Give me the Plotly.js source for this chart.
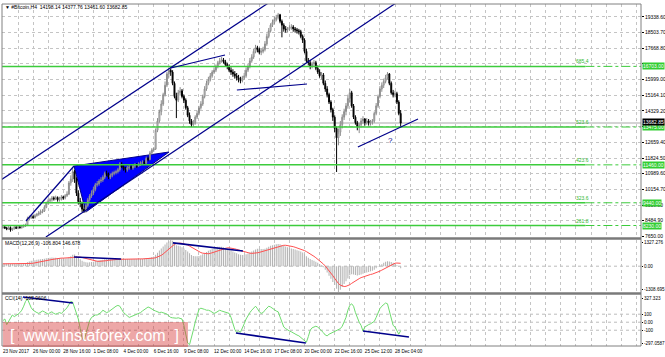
<!DOCTYPE html>
<html><head><meta charset="utf-8">
<script src="https://cdn.plot.ly/plotly-3.0.1.min.js"></script>
<style>html,body{margin:0;padding:0;background:#fff;}#chart{width:665px;height:357px;}</style>
</head><body><div id="chart"></div>
<script>
const opens=[8120,8150,8100,8050,8120,7990,8060,8130,8090,8150,
8120,8180,8200,8250,8600,8650,8700,8660,8760,8820,
8900,8950,9000,9200,9430,9550,9600,9700,9650,9720,
9600,9650,9750,9700,9820,9900,10500,10700,11100,10700,
9950,9500,9400,9100,9000,9300,9600,9800,9950,10150,
10400,10450,10600,10650,10800,11000,10950,10800,10900,11000,
11050,11100,11200,11500,11350,11250,11200,11300,11350,11300,
11400,11450,11400,11500,11550,11600,11550,11800,11750,12100,
12250,12300,13300,13800,14300,14700,15200,15700,16300,16500,
16400,15800,15100,14900,15300,15400,15100,14900,14500,14100,
13800,13600,13700,14000,14200,14500,14700,15100,15500,15800,
16000,16200,16400,16500,16700,16900,17000,17050,16950,16800,
16700,16500,16400,16300,16200,16100,16000,15950,16100,16200,
16500,16700,17000,17200,17500,17700,17600,17450,17500,17600,
17900,18300,18600,18900,19050,19200,19300,19450,19100,18900,
18700,18650,18700,18780,18800,18700,18650,18600,18550,18300,
18100,17500,17000,16900,16700,16850,16900,16600,16400,16200,
16250,15800,15500,15200,14800,14400,14000,13400,12900,13200,
13600,14000,14300,14600,15000,15300,14600,14000,13700,13500,
13600,13800,13900,13700,13800,13700,13750,13800,14200,14600,
15100,15500,15700,15900,16100,16300,15800,15300,15200,15250,
14800,14198.14];
const highs=[8250,8220,8160,8200,8180,8120,8200,8210,8230,8240,
8260,8290,8330,8700,8760,8800,8780,8850,8900,9000,
9080,9100,9300,9500,9650,9700,9800,9780,9820,9780,
9760,9850,9820,9900,10050,10600,10900,11350,11200,10800,
10100,9700,9500,9300,9400,9700,9900,10100,10300,10500,
10600,10700,10800,10900,11100,11150,11050,11000,11100,11150,
11200,11300,11600,11600,11450,11350,11400,11450,11450,11500,
11550,11550,11600,11650,11700,11700,11900,11900,12200,12350,
12400,13400,13950,14400,14900,15300,15900,16400,16650,16600,
16500,15900,15300,15450,15600,15500,15200,15000,14600,14250,
13900,13850,14100,14350,14600,14850,15200,15650,15950,16150,
16350,16500,16650,16800,17000,17150,17200,17150,17050,16900,
16800,16650,16550,16450,16350,16250,16150,16200,16350,16650,
16850,17150,17350,17650,17850,17800,17700,17650,17750,18050,
18450,18750,19000,19200,19350,19450,19550,19500,19200,19000,
18850,18800,18900,18950,18900,18800,18750,18700,18650,18400,
18200,17650,17150,17050,16950,17050,17000,16750,16550,16400,
16350,15950,15650,15300,14900,14500,14100,13500,13400,13800,
14150,14450,14750,15200,15500,15400,14700,14100,13800,13700,
13950,14050,13950,13950,13900,13850,13900,14300,14750,15200,
15650,15850,16050,16250,16400,16350,15900,15450,15400,15350,
14900,14377.76];
const lows=[8050,8040,7980,8000,7900,7940,8010,8040,8030,8060,
8060,8110,8150,8200,8500,8580,8580,8600,8700,8750,
8800,8880,8950,9150,9350,9450,9500,9560,9580,9500,
9500,9560,9600,9620,9750,9850,10350,10550,10500,9800,
9350,9200,8950,8900,8920,9200,9500,9700,9850,10050,
10300,10350,10500,10550,10700,10850,10700,10700,10800,10900,
10950,11000,11100,11300,11150,11050,11100,11200,11200,11200,
11300,11300,11350,11400,11450,11450,11500,11650,11700,12000,
12150,12250,13200,13700,14100,14600,15100,15600,16100,16200,
15700,15000,13950,14800,15150,15000,14750,14400,14000,13650,
13475,13480,13600,13900,14100,14400,14600,15000,15400,15700,
15900,16100,16300,16400,16600,16800,16900,16850,16700,16550,
16400,16250,16150,16050,15950,15850,15800,15850,16000,16100,
16400,16600,16900,17100,17400,17450,17350,17300,17400,17500,
17800,18200,18500,18800,18950,19100,19200,19000,18250,18550,
18500,18500,18600,18650,18550,18500,18450,18400,18200,17950,
17400,16900,16750,16550,16600,16700,16500,16300,16100,16000,
15700,15350,15050,14700,14250,13800,13200,11080,12500,13000,
13400,13850,14100,14450,14800,14500,13900,13600,13300,13150,
13450,13650,13550,13600,13550,13550,13600,13700,14100,14500,
15000,15350,15550,15800,16000,15700,15200,15050,15050,14700,
14100,13461.60];
const closes=[8150,8100,8050,8120,7990,8060,8130,8090,8150,8120,
8180,8200,8250,8600,8650,8700,8660,8760,8820,8900,
8950,9000,9200,9430,9550,9600,9700,9650,9720,9600,
9650,9750,9700,9820,9900,10500,10700,11100,10700,9950,
9500,9400,9100,9000,9300,9600,9800,9950,10150,10400,
10450,10600,10650,10800,11000,10950,10800,10900,11000,11050,
11100,11200,11500,11350,11250,11200,11300,11350,11300,11400,
11450,11400,11500,11550,11600,11550,11800,11750,12100,12250,
12300,13300,13800,14300,14700,15200,15700,16300,16500,16400,
15800,15100,14900,15300,15400,15100,14900,14500,14100,13800,
13600,13700,14000,14200,14500,14700,15100,15500,15800,16000,
16200,16400,16500,16700,16900,17000,17050,16950,16800,16700,
16500,16400,16300,16200,16100,16000,15950,16100,16200,16500,
16700,17000,17200,17500,17700,17600,17450,17500,17600,17900,
18300,18600,18900,19050,19200,19300,19450,19100,18900,18700,
18650,18700,18780,18800,18700,18650,18600,18550,18300,18100,
17500,17000,16900,16700,16850,16900,16600,16400,16200,16250,
15800,15500,15200,14800,14400,14000,13400,12900,13200,13600,
14000,14300,14600,15000,15300,14600,14000,13700,13500,13600,
13800,13900,13700,13800,13700,13750,13800,14200,14600,15100,
15500,15700,15900,16100,16300,15800,15300,15200,15250,14800,
14198.14,13682.85];
const macdMain=[150,140,130,135,110,105,115,110,120,125,
130,140,150,200,240,270,280,300,320,340,
350,360,380,400,420,430,440,430,430,410,
400,400,390,395,400,450,500,580,590,520,
430,350,280,220,200,190,200,210,230,260,
280,300,310,330,350,350,340,340,340,345,
350,360,390,390,380,370,370,370,360,365,
370,365,370,375,380,380,400,400,430,460,
490,580,680,790,900,1000,1100,1200,1270,1327,
1290,1180,1060,1030,1010,960,900,820,740,650,
570,520,500,500,520,550,600,660,720,780,
830,880,920,960,980,990,980,960,930,890,
840,790,740,690,650,610,580,570,570,600,
640,700,750,800,850,880,880,870,870,890,
930,980,1030,1060,1090,1110,1130,1110,1080,1040,
1000,960,930,900,870,840,810,780,740,690,
600,500,430,360,310,280,230,170,110,40,
-60,-180,-320,-480,-640,-800,-960,-1150,-1308,-1200,
-1050,-900,-770,-620,-460,-410,-420,-450,-470,-450,
-420,-380,-350,-320,-290,-260,-230,-180,-110,-30,
30,100,170,220,250,240,210,170,110,50,
-30,-106.804];
const macdSignal=[120,120,118,116,114,112,110,110,112,115,
118,120,122,125,130,140,150,165,180,200,
220,240,260,280,300,320,340,360,380,395,
405,410,410,410,410,415,425,440,460,470,
470,460,440,415,385,355,325,300,280,265,
250,245,245,250,260,280,300,315,325,335,
340,345,350,355,360,365,368,370,370,370,
370,370,370,370,370,372,375,378,385,395,
410,430,460,500,550,620,700,790,880,970,
1050,1110,1150,1170,1170,1160,1140,1110,1070,1020,
960,900,840,780,730,690,660,640,630,630,
650,680,720,760,800,840,870,900,920,930,
930,920,900,880,850,820,790,750,720,690,
670,660,650,650,660,680,700,730,760,790,
820,850,880,910,940,970,1000,1030,1050,1060,
1060,1050,1040,1020,990,960,930,900,870,830,
790,740,690,630,570,500,430,360,280,200,
110,10,-100,-220,-350,-480,-620,-760,-880,-960,
-1010,-1030,-1020,-990,-940,-870,-800,-740,-680,-630,
-580,-540,-500,-470,-440,-420,-400,-370,-340,-300,
-250,-200,-150,-100,-40,20,80,120,150,160,
155,146.678];
const cci=[20,40,-30,10,60,90,70,80,100,120,
150,200,260,290,230,180,150,130,120,110,
120,140,130,110,100,120,130,110,100,110,
120,110,130,150,180,220,260,250,180,100,
40,-80,-200,-230,-150,-50,20,60,80,90,
90,100,120,150,140,120,130,150,170,190,
200,210,200,160,120,100,80,60,70,80,
90,90,100,120,140,160,180,190,180,160,
150,140,130,120,125,120,110,100,80,60,
55,50,50,55,50,40,-40,-150,-260,-280,
-200,-100,0,100,160,175,170,160,150,150,
140,120,110,120,140,150,140,130,120,110,
110,60,-20,-90,-130,-110,-125,-60,-20,40,
90,120,150,180,200,170,130,110,120,150,
180,200,190,170,150,140,130,60,0,-60,
-80,-100,-110,-120,-130,-150,-160,-170,-190,-220,
-240,-250,-180,-100,-70,-60,-50,-60,-80,-100,
-130,-160,-170,-150,-140,-120,-110,-100,-100,-80,
-50,0,60,150,210,230,200,120,50,0,
-40,-110,-60,-40,-30,-20,-10,10,60,120,
170,200,220,240,230,150,60,-40,-60,-100,
-150,-105.9606];
const timeLabels=['23 Nov 2017','26 Nov 00:00','28 Nov 16:00','1 Dec 08:00','4 Dec 00:00','6 Dec 16:00','9 Dec 08:00','12 Dec 00:00','14 Dec 16:00','17 Dec 08:00','20 Dec 00:00','22 Dec 16:00','25 Dec 12:00','28 Dec 04:00'];
const priceTicks=[7650.00,8484.90,9319.80,10154.70,10989.60,11824.50,12659.40,13494.30,14329.20,15164.10,15999.00,16833.90,17668.80,18503.70,19338.60];
const hiddenTicks=[13494.30,16833.90];
const levelPrices=[16703,13475,11460,9440,8230];
const levelNames=['685.4','523.6','423.6','323.6','261.8'];
const lastPrice=13682.85;
const macdRangeText=['1327.276','0.00','-1308.695'];
const cciTickText=['327.323','100','0.00','-100','-297.0587'];
// analyst drawings: [bar, value] endpoints
const channelUpper=[[-1.06,10653],[143.2,20238]];
const channelLower=[[22.8,7617],[208.5,20078]];
const wedgeLine=[[12.2,8470],[37.7,11398]];
const triangle=[[37.7,11398],[44,8949],[88.1,12144]];
const lineA=[[89.1,16617],[117.8,17309]];
const lineB=[[124.1,15445],[161.3,15765]];
const supportLine=[[188.3,12410],[220.2,13901]];
const macdLines=[[[37.7,466],[62.6,365]],[[90.2,1180],[127.3,770]]];
const cciLines=[[[10.6,315],[37.1,240]],[[123.6,-135],[160.7,-260]],[[191,-110],[215.4,-185]]];

const idx=closes.map((_,i)=>i);
const NAVY='#00008b', GREEN='#3ccc3c', F='Liberation Sans, Arial, sans-serif';

const traces=[
 {type:'candlestick',x:idx,open:opens,high:highs,low:lows,close:closes,xaxis:'x',yaxis:'y',
  increasing:{line:{color:'#8c8c8c',width:1},fillcolor:'#ffffff'},
  decreasing:{line:{color:'#000000',width:1},fillcolor:'#000000'},whiskerwidth:0,hoverinfo:'skip'},
 {type:'bar',x:idx,y:macdMain,xaxis:'x',yaxis:'y2',width:0.55,marker:{color:'#b4b4b4',line:{width:0}},hoverinfo:'skip'},
 {type:'scatter',mode:'lines',x:idx,y:macdSignal,xaxis:'x',yaxis:'y2',line:{color:'#ff5050',width:1},hoverinfo:'skip'},
 {type:'scatter',mode:'lines',x:idx,y:cci,xaxis:'x',yaxis:'y3',line:{color:'#6fdc6f',width:1},hoverinfo:'skip'}
];

const shapes=[];
function seg(p,yref,color,width,dash,layer){shapes.push({type:'line',xref:'x',yref:yref,x0:p[0][0],y0:p[0][1],x1:p[1][0],y1:p[1][1],line:{color:color,width:width,dash:dash||'solid'},layer:layer||'above'});}
shapes.push({type:'line',xref:'x',yref:'y',x0:-1,x1:340,y0:lastPrice,y1:lastPrice,line:{color:'#d4d4d4',width:2},layer:'between'});
shapes.push({type:'path',xref:'x',yref:'y',path:'M'+triangle.map(t=>t[0]+','+t[1]).join(' L')+' Z',fillcolor:'#0000ff',line:{color:NAVY,width:1},layer:'between'});
levelPrices.forEach(p=>{
 shapes.push({type:'line',xref:'x',yref:'y',x0:-1,x1:309,y0:p,y1:p,line:{color:GREEN,width:1.5},layer:'above'});
 shapes.push({type:'line',xref:'x',yref:'y',x0:309,x1:340,y0:p,y1:p,line:{color:GREEN,width:1,dash:'dashdot'},layer:'above'});
});
[channelUpper,channelLower,wedgeLine,lineA,lineB,supportLine].forEach(l=>seg(l,'y',NAVY,1.2));
macdLines.forEach(l=>seg(l,'y2',NAVY,1.6));
cciLines.forEach(l=>seg(l,'y3',NAVY,1.6));
shapes.push({type:'line',xref:'paper',yref:'y2',x0:0,x1:1,y0:0,y1:0,line:{color:'#bcbcbc',width:1,dash:'dot'},layer:'below'});
[100,0,-100].forEach(v=>shapes.push({type:'line',xref:'paper',yref:'y3',x0:0,x1:1,y0:v,y1:v,line:{color:'#bcbcbc',width:1,dash:'dot'},layer:'below'}));
shapes.push({type:'rect',xref:'paper',yref:'paper',x0:0,x1:1,y0:0,y1:1,line:{color:'#808080',width:1},layer:'above'});
[0.3143,0.1535].forEach(y=>shapes.push({type:'line',xref:'paper',yref:'paper',x0:0,x1:1,y0:y,y1:y,line:{color:'#7a7a7a',width:2.5},layer:'above'}));
shapes.push({type:'rect',xref:'paper',yref:'paper',x0:0.0016,x1:0.291,y0:-0.003,y1:0.0702,fillcolor:'rgba(215,60,60,0.45)',line:{width:0},layer:'above'});

const ann=[];
const small={family:F,size:5,color:'#000'};
const tiny={family:F,size:4.6,color:'#000'};
ann.push({xref:'paper',yref:'paper',x:0.002,y:0.991,xanchor:'left',yanchor:'middle',showarrow:false,text:'▼ #Bitcoin,H4  14198.14 14377.76 13461.60 13682.85',font:small});
ann.push({xref:'paper',yref:'paper',x:0.002,y:0.301,xanchor:'left',yanchor:'middle',showarrow:false,text:'MACD(12,26,9) -106.804 146.678',font:small});
ann.push({xref:'paper',yref:'paper',x:0.002,y:0.140,xanchor:'left',yanchor:'middle',showarrow:false,text:'CCI(14) -105.9606',font:small});
levelPrices.forEach((p,i)=>{
 ann.push({xref:'x',yref:'y',x:303,y:p,xanchor:'left',yanchor:'bottom',showarrow:false,text:levelNames[i],font:{family:F,size:5,color:'#2fb82f'}});
 ann.push({xref:'paper',yref:'y',x:1,y:p,xanchor:'left',yanchor:'middle',xshift:1,showarrow:false,text:p.toFixed(2),bgcolor:'#32cd32',borderpad:0,font:{family:F,size:5,color:'#ffffff'}});
});
ann.push({xref:'paper',yref:'y',x:1,y:lastPrice,xanchor:'left',yanchor:'middle',xshift:1,yshift:1,showarrow:false,text:lastPrice.toFixed(2),bgcolor:'#000000',borderpad:0,font:{family:F,size:5,color:'#ffffff'}});
ann.push({xref:'x',yref:'y',x:205.8,y:12783,showarrow:false,text:'?',font:{family:F,size:8,color:NAVY}});
ann.push({xref:'paper',yref:'paper',x:0.1455,y:0.032,xanchor:'center',yanchor:'middle',showarrow:false,text:'[  www.instaforex.com  ]',font:{family:F,size:16,color:'#ffffff'}});

const xt=[],xtt=[];
for(let i=0;i<=42;i++){xt.push(i*8);xtt.push(i%2===0&&i/2<timeLabels.length?timeLabels[i/2]:'');}

const layout={width:665,height:357,margin:{l:2,r:24,t:4,b:11},paper_bgcolor:'#fff',plot_bgcolor:'#fff',showlegend:false,hovermode:false,
 xaxis:{type:'linear',range:[-0.5,338.5],anchor:'y3',tickvals:xt,ticktext:xtt,tickangle:0,ticklabelposition:'outside right',ticks:'',tickfont:tiny,ticklabelstandoff:1,
  showgrid:true,gridcolor:'#c4c4c4',griddash:'dot',gridwidth:1,zeroline:false,showline:false,rangeslider:{visible:false},fixedrange:true},
 yaxis:{domain:[0.3187,1],range:[7617.5,20025],side:'right',anchor:'x',tickvals:priceTicks,ticktext:priceTicks.map(v=>hiddenTicks.includes(v)?'':v.toFixed(2)),tickfont:small,
  ticks:'outside',ticklen:2,tickcolor:'#000',showgrid:true,gridcolor:'#c4c4c4',griddash:'dot',zeroline:false,showline:false},
 yaxis2:{domain:[0.1579,0.3099],range:[-1308.695,1327.276],side:'right',anchor:'x',tickvals:[1200,0,-1200],ticktext:macdRangeText,tickfont:tiny,
  ticks:'outside',ticklen:1,tickcolor:'#000',showgrid:false,zeroline:false,showline:false},
 yaxis3:{domain:[0,0.1462],range:[-297.0587,327.323],side:'right',anchor:'x',tickvals:[300,100,0,-100,-270],ticktext:cciTickText,tickfont:tiny,
  ticks:'outside',ticklen:1,tickcolor:'#000',showgrid:false,zeroline:false,showline:false},
 shapes:shapes,annotations:ann};
Plotly.newPlot('chart',traces,layout,{staticPlot:true,displayModeBar:false});
</script></body></html>
